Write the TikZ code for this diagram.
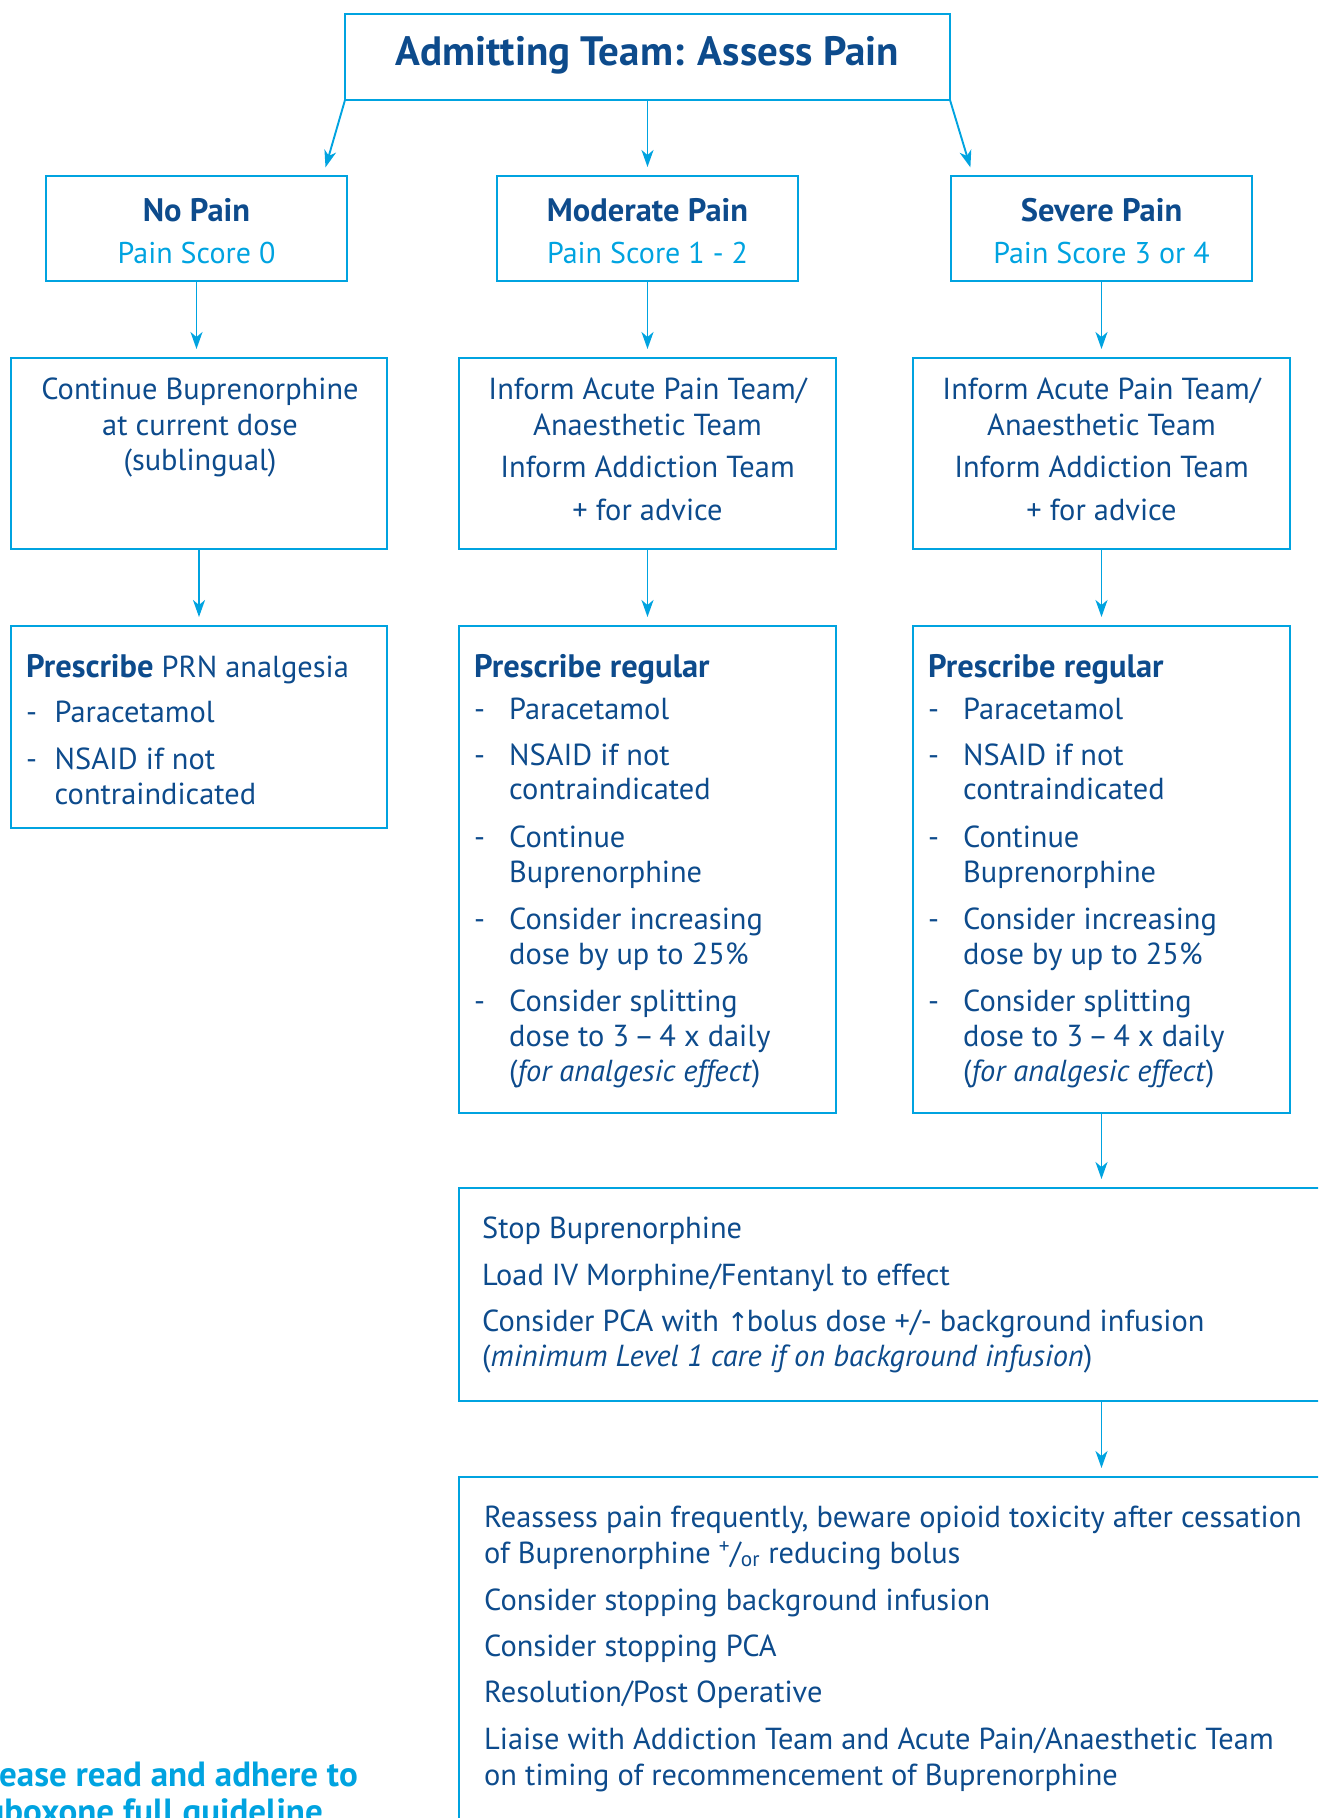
\documentclass[tikz,border=0pt]{standalone}
\usepackage{fontspec}
\setmainfont{PT Sans}
\newfontfamily\symfont{DejaVu Sans}
\usetikzlibrary{arrows.meta}
\definecolor{navy}{HTML}{0D4B8C}
\definecolor{cyanb}{HTML}{00A3E0}
\newcommand{\bfbig}[1]{{\fontsize{32.5}{35}\selectfont\bfseries #1}}
\begin{document}
\begin{tikzpicture}[x=1pt,y=-1pt,
  box/.style={draw=cyanb, line width=2.4pt, rectangle, inner sep=0pt, outer sep=0pt},
  arr/.style={draw=cyanb, line width=1.9pt, shorten >=9pt, -{Stealth[length=17pt,width=12pt,inset=5pt]}},
  bodyt/.style={text=navy, inner sep=0pt, font=\fontsize{30.4}{35}\selectfont, anchor=base west},
  bodyc/.style={bodyt, anchor=base},
  headc/.style={bodyt, anchor=base, font=\fontsize{32.5}{35}\selectfont\bfseries},
  heads/.style={bodyt, font=\fontsize{32.5}{35}\selectfont\bfseries},
  scorec/.style={bodyt, anchor=base, text=cyanb, font=\fontsize{30}{35}\selectfont},
  titlet/.style={bodyt, anchor=base, font=\fontsize{41}{45}\selectfont\bfseries},
  notet/.style={bodyt, anchor=base east, text=cyanb, font=\fontsize{35}{38}\selectfont\bfseries}
]
\useasboundingbox (0,0) rectangle (1318,1818);
\clip (0,0) rectangle (1318,1818);
% boxes
\node[box, minimum width=605pt, minimum height=86pt] (top) at (647.5,57) {};
\node[box, minimum width=301pt, minimum height=105pt] (nopain) at (196.5,228.5) {};
\node[box, minimum width=301pt, minimum height=105pt] (modpain) at (647.5,228.5) {};
\node[box, minimum width=301pt, minimum height=105pt] (sevpain) at (1101.5,228.5) {};
\node[box, minimum width=376pt, minimum height=191pt] (cont) at (199,453.5) {};
\node[box, minimum width=377pt, minimum height=191pt] (infm) at (647.5,453.5) {};
\node[box, minimum width=377pt, minimum height=191pt] (infs) at (1101.5,453.5) {};
\node[box, minimum width=376pt, minimum height=202pt] (prn) at (199,727) {};
\node[box, minimum width=377pt, minimum height=487pt] (regm) at (647.5,869.5) {};
\node[box, minimum width=377pt, minimum height=487pt] (regs) at (1101.5,869.5) {};
\node[box, minimum width=881pt, minimum height=213pt] (stop) at (899.5,1294.5) {};
\node[box, minimum width=881pt, minimum height=373pt] (reas) at (899.5,1663.5) {};
% connectors
\coordinate (nopainin) at (323,176);
\coordinate (sevpainin) at (973,176);
\draw[arr] (top.south west) -- (nopainin);
\draw[arr] (top.south) -- (modpain.north);
\draw[arr] (top.south east) -- (sevpainin);
\draw[arr] (nopain.south) -- (nopain.south |- cont.north);
\draw[arr] (modpain.south) -- (infm.north);
\draw[arr] (sevpain.south) -- (infs.north);
\draw[arr] (cont.south) -- (prn.north);
\draw[arr] (infm.south) -- (regm.north);
\draw[arr] (infs.south) -- (regs.north);
\draw[arr] (regs.south) -- (regs.south |- stop.north);
\draw[arr] (regs.south |- stop.south) -- (regs.south |- reas.north);
% title
\node[titlet] (ttl) at (647.5,65) {Admitting Team: Assess Pain};
% row 2
\node[headc] (npH) at (196.5,221) {No Pain};
\node[scorec] (npS) at (196.5,263) {Pain Score 0};
\node[headc] (mpH) at (647.5,221) {Moderate Pain};
\node[scorec] (mpS) at (647.5,263) {Pain Score 1 - 2};
\node[headc] (spH) at (1101.5,221) {Severe Pain};
\node[scorec] (spS) at (1101.5,263) {Pain Score 3 or 4};
% row 3
\node[bodyc] (c1) at (200,399) {Continue Buprenorphine};
\node[bodyc] (c2) at (200,435) {at current dose};
\node[bodyc] (c3) at (200,470) {(sublingual)};
\node[bodyc] (im1) at (647.5,399) {Inform Acute Pain Team/};
\node[bodyc] (im2) at (647.5,435) {Anaesthetic Team};
\node[bodyc] (im3) at (647.5,477) {Inform Addiction Team};
\node[bodyc] (im4) at (647.5,520) {+ for advice};
\node[bodyc] (is1) at (1101.5,399) {Inform Acute Pain Team/};
\node[bodyc] (is2) at (1101.5,435) {Anaesthetic Team};
\node[bodyc] (is3) at (1101.5,477) {Inform Addiction Team};
\node[bodyc] (is4) at (1101.5,520) {+ for advice};
% row 4 left
\node[bodyt] (p0) at (26,677) {\bfbig{Prescribe} PRN analgesia};
\node[bodyt] (pd1) at (26,722) {-};
\node[bodyt] (p1) at (54.5,722) {Paracetamol};
\node[bodyt] (pd2) at (26,769) {-};
\node[bodyt] (p2) at (54.5,769) {NSAID if not};
\node[bodyt] (p3) at (54.5,804) {contraindicated};
% row 4 middle
\node[heads] (m0) at (474,677) {Prescribe regular};
\node[bodyt] (md1) at (474,719) {-};
\node[bodyt] (m1) at (509,719) {Paracetamol};
\node[bodyt] (md2) at (474,765) {-};
\node[bodyt] (m2) at (509,765) {NSAID if not};
\node[bodyt] (m3) at (509,799) {contraindicated};
\node[bodyt] (md3) at (474,847) {-};
\node[bodyt] (m4) at (509,847) {Continue};
\node[bodyt] (m5) at (509,882) {Buprenorphine};
\node[bodyt] (md4) at (474,929) {-};
\node[bodyt] (m6) at (509,929) {Consider increasing};
\node[bodyt] (m7) at (509,964) {dose by up to 25\%};
\node[bodyt] (md5) at (474,1011) {-};
\node[bodyt] (m8) at (509,1011) {Consider splitting};
\node[bodyt] (m9) at (509,1046) {dose to 3\,–\,4 x daily};
\node[bodyt] (m10) at (509,1081) {(\textit{for analgesic effect})};
% row 4 right
\node[heads] (s0) at (928,677) {Prescribe regular};
\node[bodyt] (sd1) at (928,719) {-};
\node[bodyt] (s1) at (963,719) {Paracetamol};
\node[bodyt] (sd2) at (928,765) {-};
\node[bodyt] (s2) at (963,765) {NSAID if not};
\node[bodyt] (s3) at (963,799) {contraindicated};
\node[bodyt] (sd3) at (928,847) {-};
\node[bodyt] (s4) at (963,847) {Continue};
\node[bodyt] (s5) at (963,882) {Buprenorphine};
\node[bodyt] (sd4) at (928,929) {-};
\node[bodyt] (s6) at (963,929) {Consider increasing};
\node[bodyt] (s7) at (963,964) {dose by up to 25\%};
\node[bodyt] (sd5) at (928,1011) {-};
\node[bodyt] (s8) at (963,1011) {Consider splitting};
\node[bodyt] (s9) at (963,1046) {dose to 3\,–\,4 x daily};
\node[bodyt] (s10) at (963,1081) {(\textit{for analgesic effect})};
% box 5
\node[bodyt] (b1) at (482,1238) {Stop Buprenorphine};
\node[bodyt] (b2) at (482,1285) {Load IV Morphine/Fentanyl to effect};
\node[bodyt] (b3) at (482,1331) {Consider PCA with {\symfont\fontsize{26}{30}\selectfont ↑}\kern-2pt bolus dose +/- background infusion};
\node[bodyt] (b4) at (482,1366) {(\textit{minimum Level 1 care if on background infusion})};
% box 6
\node[bodyt] (r1) at (484,1527) {Reassess pain frequently, beware opioid toxicity after cessation};
\node[bodyt] (r2) at (484,1563) {of Buprenorphine \textsuperscript{+}/\textsubscript{or} reducing bolus};
\node[bodyt] (r3) at (484,1610) {Consider stopping background infusion};
\node[bodyt] (r4) at (484,1656) {Consider stopping PCA};
\node[bodyt] (r5) at (484,1702) {Resolution/Post Operative};
\node[bodyt] (r6) at (484,1749) {Liaise with Addiction Team and Acute Pain/Anaesthetic Team};
\node[bodyt] (r7) at (484,1785) {on timing of recommencement of Buprenorphine};
% note bottom left (cut off by the picture's edges, as in the reference)
\node[notet] (n1) at (358,1786) {Please read and adhere to};
\node[notet] (n2) at (323,1823) {Suboxone full guideline};
\end{tikzpicture}
\end{document}
